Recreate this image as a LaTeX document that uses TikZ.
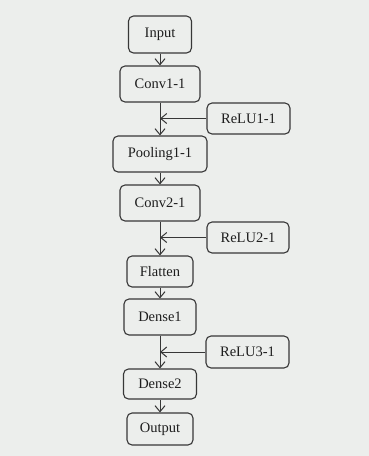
\documentclass[tikz,border=0pt]{standalone}
\usepackage{fontspec}
\setmainfont{Liberation Serif}
\usetikzlibrary{arrows.meta}
\definecolor{bg}{RGB}{236,238,236}
\definecolor{ln}{RGB}{55,55,55}
\definecolor{tx}{RGB}{30,30,30}
\begin{document}
\begin{tikzpicture}[x=1pt,y=-1pt,
  box/.style={draw=ln, line width=1.1pt, rounded corners=5pt, fill=bg, text=tx,
    font=\fontsize{14.5}{16}\selectfont, inner sep=0pt},
  arr/.style={draw=ln, line width=1pt, -{Straight Barb[length=6pt,width=10pt]}}]
\fill[bg] (0,0) rectangle (369,456);
\useasboundingbox (0,0) rectangle (369,456);
\node[box, minimum width=63pt, minimum height=37pt] (in) at (160,34.5) {Input};
\node[box, minimum width=80pt, minimum height=36pt] (c1) at (160,84) {Conv1-1};
\node[box, minimum width=83pt, minimum height=31pt] (r1) at (248.5,118.5) {ReLU1-1};
\node[box, minimum width=94pt, minimum height=36pt] (p1) at (160,154) {Pooling1-1};
\node[box, minimum width=80pt, minimum height=36pt] (c2) at (160,203) {Conv2-1};
\node[box, minimum width=82pt, minimum height=31pt] (r2) at (248,237.5) {ReLU2-1};
\node[box, minimum width=66pt, minimum height=31pt] (fl) at (160,271.5) {Flatten};
\node[box, minimum width=72pt, minimum height=36pt] (d1) at (160,317) {Dense1};
\node[box, minimum width=83pt, minimum height=32pt] (r3) at (247.5,352) {ReLU3-1};
\node[box, minimum width=73pt, minimum height=30pt] (d2) at (160,384) {Dense2};
\node[box, minimum width=66pt, minimum height=32pt] (out) at (160,429) {Output};
\draw[arr] (in.south) -- (c1.north);
\draw[arr] (c1.south) -- (p1.north);
\draw[arr] (r1.west) -- (r1.west -| c1.south);
\draw[arr] (p1.south) -- (c2.north);
\draw[arr] (c2.south) -- (fl.north);
\draw[arr] (r2.west) -- (r2.west -| c2.south);
\draw[arr] (fl.south) -- (d1.north);
\draw[arr] (d1.south) -- (d2.north);
\draw[arr] (r3.west) -- (r3.west -| d1.south);
\draw[arr] (d2.south) -- (out.north);
\end{tikzpicture}
\end{document}
